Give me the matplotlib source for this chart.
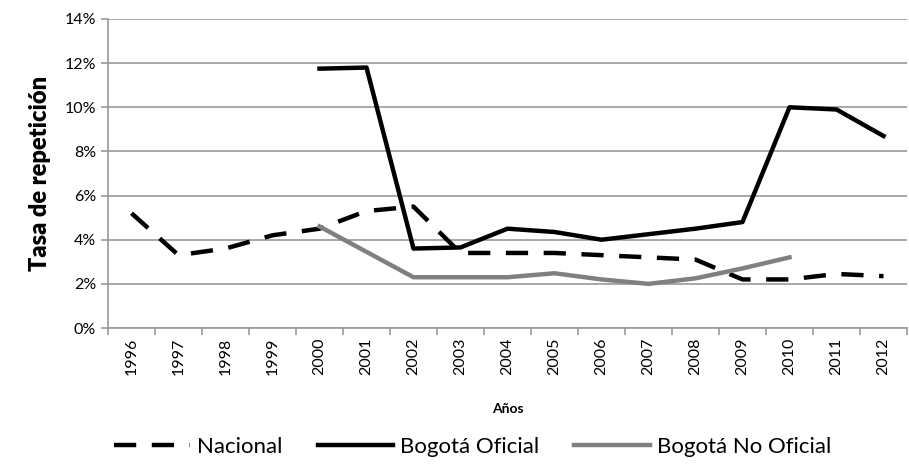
import numpy as np
import matplotlib.pyplot as plt
from matplotlib.ticker import FuncFormatter, FixedLocator

plt.rcParams['font.family'] = ['Lato', 'DejaVu Sans']

years = [str(y) for y in range(1996, 2013)]
nacional = [5.2, 3.3, 3.6, 4.2, 4.5, 5.3, 5.5, 3.4, 3.4, 3.4, 3.3, 3.2, 3.1, 2.2, 2.2, 2.45, 2.35]
bog_oficial = [np.nan] * 4 + [11.75, 11.8, 3.6, 3.65, 4.5, 4.35, 4.0, 4.25, 4.5, 4.8, 10.0, 9.9, 8.7]
bog_no_oficial = [np.nan] * 4 + [4.6, 3.45, 2.3, 2.3, 2.3, 2.48, 2.2, 2.0, 2.25, 2.7, 3.2] + [np.nan] * 2

fig = plt.figure(figsize=(9.09, 4.67), dpi=100)
ax = fig.add_axes([108 / 909, 1 - 328 / 467, 799 / 909, 309 / 467])

x = np.arange(len(years))
ax.plot(x, nacional, color="black", linewidth=3.2, dashes=(5, 3.5), label="Nacional")
ax.plot(x, bog_oficial, color="black", linewidth=3.2, label="Bogotá Oficial")
ax.plot(x, bog_no_oficial, color="#808080", linewidth=3.2, label="Bogotá No Oficial")

ax.set_xlim(-0.5, len(years) - 0.5)
ax.set_ylim(0, 14)
ax.set_yticks(np.arange(0, 15, 2))
ax.yaxis.set_major_formatter(FuncFormatter(lambda v, p: f"{v:.0f}%"))
ax.grid(axis="y", color="#9a9a9a", linewidth=1.2)
ax.set_axisbelow(True)

ax.set_xticks(x)
ax.set_xticklabels(years, rotation=90, fontsize=11.5)
ax.xaxis.set_minor_locator(FixedLocator(np.arange(-0.5, len(years), 1)))
ax.tick_params(axis="x", which="major", length=0, pad=7)
ax.tick_params(axis="x", which="minor", length=5, color="#9a9a9a", width=1.2)
ax.tick_params(axis="y", length=5, color="#9a9a9a", width=1.2, labelsize=11.5)

for s in ["top", "right"]:
    ax.spines[s].set_visible(False)
for s in ["left", "bottom"]:
    ax.spines[s].set_color("#9a9a9a")
    ax.spines[s].set_linewidth(1.2)

ax.set_xlabel("Años", fontsize=10, fontweight="bold", labelpad=20)
ax.set_ylabel("Tasa de repetición", fontsize=17, fontweight="heavy", labelpad=10)

fig.legend(loc="lower center", bbox_to_anchor=(0.52, -0.022), ncol=3, frameon=False,
           fontsize=16, handlelength=3.4, columnspacing=1.6, handletextpad=0.3)

fig.savefig("out.png", dpi=100)
